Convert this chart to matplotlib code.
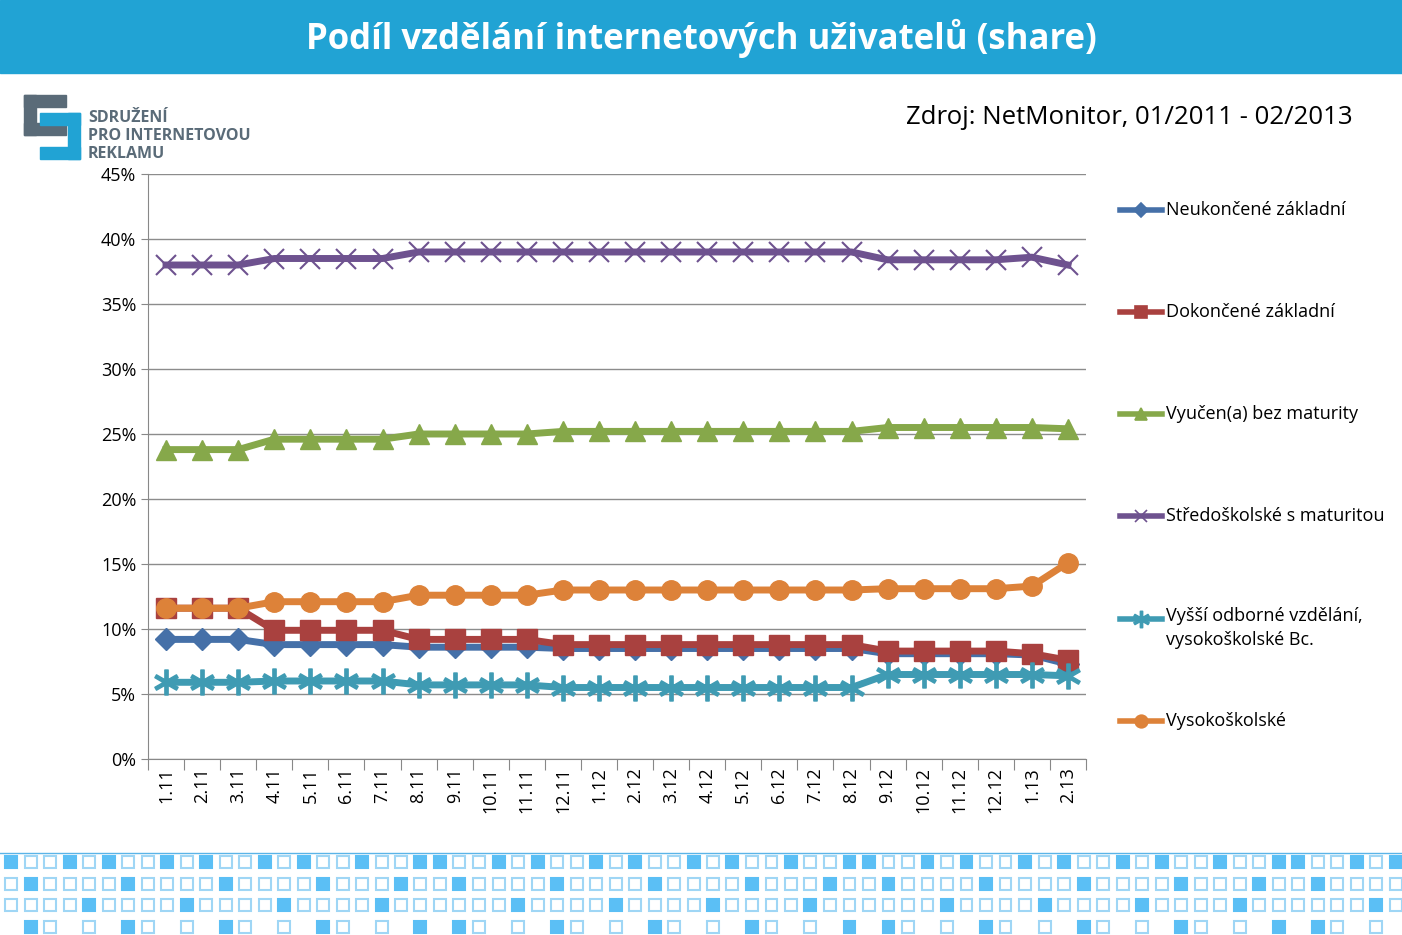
import matplotlib
matplotlib.use("Agg")
import matplotlib.pyplot as plt
from matplotlib.patches import Rectangle
from matplotlib.lines import Line2D

categories = ["1.11","2.11","3.11","4.11","5.11","6.11","7.11","8.11","9.11","10.11","11.11","12.11",
              "1.12","2.12","3.12","4.12","5.12","6.12","7.12","8.12","9.12","10.12","11.12","12.12","1.13","2.13"]
neukoncene = [9.2]*3 + [8.8]*4 + [8.6]*4 + [8.5]*9 + [8.1]*4 + [8.0, 7.3]
dokoncene = [11.6]*3 + [9.9]*4 + [9.2]*4 + [8.8]*9 + [8.3]*4 + [8.1, 7.6]
vyucen = [23.8]*3 + [24.6]*4 + [25.0]*4 + [25.2]*9 + [25.5]*5 + [25.4]
stredo = [38.0]*3 + [38.5]*4 + [39.0]*13 + [38.4]*4 + [38.6, 38.0]
vyssi = [5.9]*3 + [6.0]*4 + [5.7]*4 + [5.5]*9 + [6.5]*5 + [6.4]
vysoko = [11.6]*3 + [12.1]*4 + [12.6]*4 + [13.0]*9 + [13.1]*4 + [13.3, 15.1]

series = [
    ("Neukončené základní", neukoncene, "#4570a8", "D", 11),
    ("Dokončené základní", dokoncene, "#a9413f", "s", 14),
    ("Vyučen(a) bez maturity", vyucen, "#86a84a", "^", 14),
    ("Středoškolské s maturitou", stredo, "#6e528f", "x", 14),
    ("Vyšší odborné vzdělání,\nvysokoškolské Bc.", vyssi, "#3f9bb3", "$\\ast$", 18),
    ("Vysokoškolské", vysoko, "#dd8239", "o", 14),
]

W, H = 1402, 935
fig = plt.figure(figsize=(W/100, H/100), dpi=100)
fig.patch.set_facecolor("white")
font = "Open Sans"

# header
fig.patches.append(Rectangle((0, 1-73/H), 1, 73/H, transform=fig.transFigure, color="#21a3d4", zorder=0))
fig.text(0.5, 1-38/H, "Podíl vzdělání internetových uživatelů (share)", ha="center", va="center",
         color="white", fontsize=25, fontweight="bold", family=font)
fig.text(1353/W, 1-117/H, "Zdroj: NetMonitor, 01/2011 - 02/2013", ha="right", va="center",
         fontsize=18.5, family=font)

# logo
def frect(x, y, w, h, c):
    fig.patches.append(Rectangle((x/W, 1-(y+h)/H), w/W, h/H, transform=fig.transFigure, color=c, zorder=1))
frect(24, 95, 42, 12, "#5a6b78")
frect(24, 95, 12, 40, "#5a6b78")
frect(24, 123, 42, 12, "#5a6b78")
frect(40, 113, 40, 12, "#21a3d4")
frect(68, 113, 12, 46, "#21a3d4")
frect(40, 147, 40, 12, "#21a3d4")
for i, t in enumerate(["SDRUŽENÍ", "PRO INTERNETOVOU", "REKLAMU"]):
    fig.text(88/W, 1-(118+i*18)/H, t, fontsize=11.5, fontweight="bold", color="#5a6b78", family=font, va="center")

ax = fig.add_axes([148/W, 1-759/H, (1086-148)/W, (759-174)/H])
x = list(range(len(categories)))
for name, vals, c, m, ms in series:
    kw = dict(color=c, lw=5, marker=m, markersize=ms, zorder=3)
    if m == "x":
        kw.update(markeredgewidth=1.5)
    ax.plot(x, vals, **kw)
ax.set_xlim(-0.5, len(categories)-0.5)
ax.set_ylim(0, 45)
ax.set_yticks(range(0, 46, 5))
ax.set_yticklabels([f"{v}%" for v in range(0, 46, 5)], family=font, fontsize=13)
ax.set_xticks([i-0.5 for i in range(len(categories)+1)], minor=False)
ax.set_xticklabels([])
ax.set_xticks(x, minor=True)
ax.set_xticklabels(categories, minor=True, rotation=90, family=font, fontsize=13)
ax.tick_params(axis="x", which="minor", length=0, pad=6)
ax.tick_params(axis="x", which="major", length=8, color="#888888")
ax.tick_params(axis="y", length=5, color="#888888")
ax.yaxis.grid(True, color="#8c8c8c", lw=1)
ax.set_axisbelow(True)
for s in ["top", "right"]:
    ax.spines[s].set_visible(False)
for s in ["left", "bottom"]:
    ax.spines[s].set_color("#888888")

# legend
ly = [210, 312, 414, 516, 619, 721]
for (name, vals, c, m, ms), y in zip(series, ly):
    fig.lines.append(Line2D([1120/W, 1141/W, 1162/W], [1-y/H]*3, transform=fig.transFigure, color=c, lw=4,
                            marker=m, markersize=ms*0.65, markevery=[1], markeredgewidth=1.2))
    if "\n" in name:
        fig.text(1166/W, 1-(y-12)/H, name, va="top", fontsize=13, family=font, linespacing=1.45)
    else:
        fig.text(1166/W, 1-y/H, name, va="center", fontsize=13, family=font)

# bottom pattern
fig.lines.append(Line2D([0, 1], [1-853/H]*2, transform=fig.transFigure, color="#5ab4e8", lw=1))
rows = ["1001010010100101001001", "0100001000010000100010", "0000100001000010000100", "x10x0x10x0x10x0x10x0x1"]
ry = [862, 884, 905, 927]
for r, y in enumerate(ry):
    pat = rows[r]
    for i in range(72):
        xx = 11 + i*19.5
        ch = pat[i % len(pat)]
        if ch == "x":
            continue
        filled = ch == "1"
        fig.patches.append(Rectangle(((xx-6)/W, 1-(y+6)/H), 12/W, 12/H, transform=fig.transFigure,
                                     facecolor="#5bbff5" if filled else "white",
                                     edgecolor="#9fd6f5" if not filled else "#5bbff5", lw=1.5, zorder=1))

fig.savefig("out.png", dpi=100)
